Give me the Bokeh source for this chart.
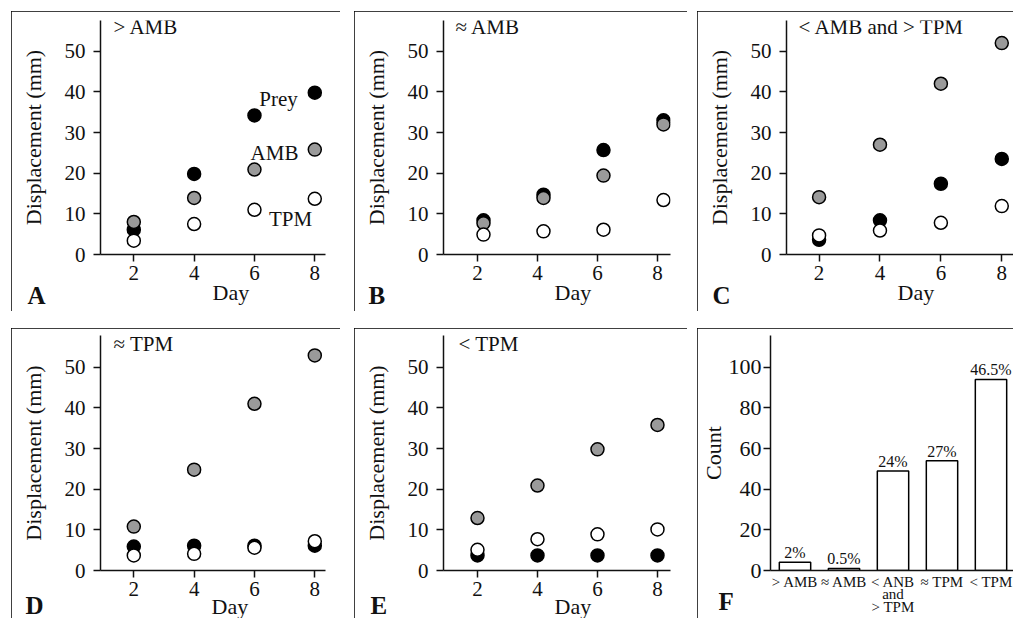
from bokeh.plotting import figure
from bokeh.models import Range1d, FactorRange, FixedTicker, Label, Title
from bokeh.layouts import row, column
from bokeh.embed import file_html
from bokeh.resources import INLINE
from bokeh.core.properties import value

FONT = "Liberation Serif"
INK = "#111111"

# ---------------- data ----------------
days = [2, 4, 6, 8]
days_b = [2.2, 4.2, 6.2, 8.2]

prey_a = [6.1, 19.8, 34.2, 39.8]
amb_a = [8.0, 13.9, 20.9, 25.8]
tpm_a = [3.4, 7.5, 11.0, 13.7]

prey_b = [8.4, 14.7, 25.7, 33.0]
amb_b = [7.7, 13.9, 19.4, 32.0]
tpm_b = [4.9, 5.7, 6.1, 13.4]

prey_c = [3.6, 8.4, 17.4, 23.5]
amb_c = [14.1, 27.0, 42.0, 52.0]
tpm_c = [4.7, 5.9, 7.8, 11.9]

prey_d = [5.9, 6.1, 6.1, 6.1]
amb_d = [10.8, 24.8, 41.0, 52.9]
tpm_d = [3.7, 4.1, 5.6, 7.2]

prey_e = [3.7, 3.7, 3.7, 3.7]
amb_e = [12.9, 20.9, 29.8, 35.8]
tpm_e = [5.1, 7.7, 8.9, 10.1]

y_ticks = [0, 10, 20, 30, 40, 50]
panel_titles = ["> AMB", "\u2248 AMB", "< AMB and > TPM", "\u2248 TPM", "< TPM"]
panel_letters = ["A", "B", "C", "D", "E", "F"]
series_names = ["Prey", "AMB", "TPM"]

categories = ["> AMB", "\u2248 AMB", "< ANB\nand\n> TPM", "\u2248 TPM", "< TPM"]
counts = [4, 1, 49, 54, 94]
pct_labels = ["2%", "0.5%", "24%", "27%", "46.5%"]
count_ticks = [0, 20, 40, 60, 80, 100]

PREY_C, AMB_C, TPM_C = "black", "#9a9a9a", "white"


def box_css(clip_right=False, clip_bottom=False):
    css = {"outline": "2.5px solid #000000", "outline-offset": "-2.5px"}
    if clip_right or clip_bottom:
        css["clip-path"] = "inset(0px %dpx %dpx 0px)" % (3 if clip_right else 0,
                                                         3 if clip_bottom else 0)
    return css


def to_data(px, py, frame, xr, yr):
    fl, fr, ft, fb = frame
    x = xr[0] + (px - fl) * (xr[1] - xr[0]) / (fr - fl)
    y = yr[0] + (fb - py) * (yr[1] - yr[0]) / (fb - ft)
    return x, y


def style_axes(p, tick_size="21px"):
    p.xgrid.visible = False
    p.ygrid.visible = False
    p.outline_line_color = None
    for ax in (p.xaxis, p.yaxis):
        ax.axis_line_width = 1.5
        ax.axis_line_color = INK
        ax.major_tick_line_width = 1.5
        ax.major_tick_line_color = INK
        ax.major_tick_in = 0
        ax.major_tick_out = 7
        ax.minor_tick_line_color = None
        ax.major_label_text_font = FONT
        ax.major_label_text_font_size = tick_size
        ax.major_label_text_color = INK
        ax.axis_label_text_font = FONT
        ax.axis_label_text_font_style = "normal"
        ax.axis_label_text_font_size = "22px"
        ax.axis_label_text_color = INK


def make_fig(box, frame, x_range, y_range, css):
    bx0, by0, bx1, by1 = box
    fl, fr, ft, fb = frame
    w, h = bx1 - bx0, by1 - by0
    p = figure(width=w, height=h, output_backend="svg", toolbar_location=None,
               x_range=x_range, y_range=y_range,
               min_border_left=fl - bx0, min_border_right=bx1 - fr,
               min_border_top=ft - by0, min_border_bottom=by1 - fb,
               background_fill_color="white", border_fill_color="white",
               styles=css)
    return p


def add_bottom_titles(p, day_offset, day_standoff, letter, letter_offset, letter_standoff):
    if day_offset is not None:
        p.add_layout(Title(text="Day", align="left", offset=day_offset, vertical_align="top",
                           standoff=day_standoff, text_font=FONT, text_font_size="22px",
                           text_font_style="normal", text_color=INK), "below")
    p.add_layout(Title(text=letter, align="left", offset=letter_offset, vertical_align="top",
                       standoff=letter_standoff, text_font=FONT, text_font_size="25px",
                       text_font_style="bold", text_color=INK), "below")


def scatter_panel(box, frame, css, xr, yr, xs, prey, amb, tpm, title, title_px, letter,
                  letter_offset, letter_standoff, day_offset, day_standoff):
    p = make_fig(box, frame, Range1d(*xr), Range1d(*yr), css)
    style_axes(p)
    p.xaxis.ticker = FixedTicker(ticks=days)
    p.yaxis.ticker = FixedTicker(ticks=y_ticks)
    p.yaxis.axis_label = "Displacement (mm)"
    p.yaxis.major_label_standoff = 8
    p.yaxis.axis_label_standoff = 16
    p.xaxis.major_label_standoff = 4
    for ys, col in ((prey, PREY_C), (amb, AMB_C), (tpm, TPM_C)):
        p.scatter(xs, ys, size=13, fill_color=col, line_color="black", line_width=1.5)
    tx, ty = to_data(title_px[0], title_px[1], frame, xr, yr)
    p.add_layout(Label(x=tx, y=ty, text=title, text_font=FONT, text_font_size="21px",
                       text_align="left", text_baseline="middle", text_color=INK))
    add_bottom_titles(p, day_offset, day_standoff, letter, letter_offset, letter_standoff)
    return p


# boxes (page px) and frames (page px)
boxA, frA = (11, 11, 340, 311), (100, 325, 20, 254)
boxB, frB = (354, 11, 687, 311), (443, 670, 20, 254)
boxC, frC = (697, 11, 1016, 311), (786, 1013, 20, 254)
boxD, frD = (11, 328, 340, 621), (100, 325, 335, 570)
boxE, frE = (354, 328, 687, 621), (443, 670, 335, 570)
boxF, frF = (697, 328, 1016, 621), (764, 1015, 335, 570)

xrA, xrB, xrC = (0.896, 8.355), (0.867, 8.434), (0.93, 8.385)
yrT, yrB = (0, 57.55), (0, 57.8)

pA = scatter_panel(boxA, frA, box_css(), xrA, yrT, days, prey_a, amb_a, tpm_a,
                   panel_titles[0], (113, 26), panel_letters[0], -73, -44, 112, -6)
pB = scatter_panel(boxB, frB, box_css(), xrB, yrT, days_b, prey_b, amb_b, tpm_b,
                   panel_titles[1], (455, 26), panel_letters[1], -75, -44, 111, -6)
pC = scatter_panel(boxC, frC, box_css(clip_right=True), xrC, yrT, days, prey_c, amb_c, tpm_c,
                   panel_titles[2], (798, 26), panel_letters[2], -74, -44, 111, -6)
pD = scatter_panel(boxD, frD, box_css(clip_bottom=True), xrA, yrB, days, prey_d, amb_d, tpm_d,
                   panel_titles[3], (113, 343), panel_letters[3], -75, -48, 111, -10)
pE = scatter_panel(boxE, frE, box_css(clip_bottom=True), xrB, yrB, days, prey_e, amb_e, tpm_e,
                   panel_titles[4], (458, 343), panel_letters[4], -73, -48, 111, -10)

# series name labels in panel A
for name, px, py in zip(series_names, (278, 274, 290), (98, 152, 218)):
    nx, ny = to_data(px, py, frA, xrA, yrT)
    pA.add_layout(Label(x=nx, y=ny, text=name, text_font=FONT, text_font_size="21px",
                        text_align="center", text_baseline="middle", text_color=INK))

# ---------------- panel F ----------------
pF = make_fig(boxF, frF, FactorRange(*categories, range_padding=0), Range1d(0, 115.6),
              box_css(clip_right=True, clip_bottom=True))
style_axes(pF, tick_size="22px")
pF.yaxis.ticker = FixedTicker(ticks=count_ticks)
pF.yaxis.axis_label = "Count"
pF.yaxis.major_label_standoff = 2
pF.yaxis.axis_label_standoff = 0
pF.xaxis.major_tick_line_color = None
pF.xaxis.major_tick_out = 0
pF.xaxis.major_label_text_font_size = "15px"
pF.xaxis.major_label_text_line_height = 0.8
pF.xaxis.major_label_standoff = 3
pF.vbar(x=categories, top=counts, width=0.64, fill_color="white", line_color="black",
        line_width=1.5)
pF.text(x=categories, y=counts, text=pct_labels, text_align="center", text_baseline="bottom",
        y_offset=-1, text_font=value(FONT), text_font_size="16px", text_color=INK)
add_bottom_titles(pF, None, 0, panel_letters[5], -52, -62)

# margins place the boxes on the page
pA.margin = (11, 0, 0, 11)
pB.margin = (11, 0, 0, 14)
pC.margin = (11, 0, 0, 10)
pD.margin = (17, 0, 0, 11)
pE.margin = (17, 0, 0, 14)
pF.margin = (17, 0, 0, 10)

layout = column(row(pA, pB, pC), row(pD, pE, pF))
open("out.html", "w").write(file_html(layout, INLINE))
